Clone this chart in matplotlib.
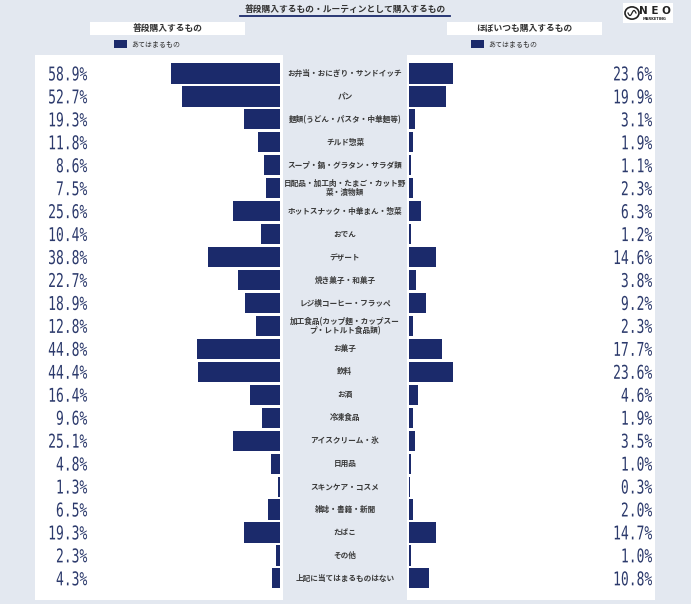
import numpy as np
import matplotlib.pyplot as plt
from matplotlib.patches import Rectangle, Circle, PathPatch
from matplotlib.textpath import TextPath
from matplotlib.font_manager import FontProperties
from matplotlib.transforms import blended_transform_factory, Affine2D, IdentityTransform

plt.switch_backend('agg')

# Data
categories = [
    'お弁当・おにぎり・サンドイッチ', 'パン', '麺類(うどん・パスタ・中華麺等)', 'チルド惣菜',
    'スープ・鍋・グラタン・サラダ類', '日配品・加工肉・たまご・カット野\n菜・漬物類',
    'ホットスナック・中華まん・惣菜', 'おでん', 'デザート', '焼き菓子・和菓子',
    'レジ横コーヒー・フラッペ', '加工食品(カップ麺・カップスー\nプ・レトルト食品類)',
    'お菓子', '飲料', 'お酒', '冷凍食品', 'アイスクリーム・氷', '日用品',
    'スキンケア・コスメ', '雑誌・書籍・新聞', 'たばこ', 'その他', '上記に当てはまるものはない',
]
usual = [58.9, 52.7, 19.3, 11.8, 8.6, 7.5, 25.6, 10.4, 38.8, 22.7, 18.9, 12.8,
         44.8, 44.4, 16.4, 9.6, 25.1, 4.8, 1.3, 6.5, 19.3, 2.3, 4.3]
always = [23.6, 19.9, 3.1, 1.9, 1.1, 2.3, 6.3, 1.2, 14.6, 3.8, 9.2, 2.3,
          17.7, 23.6, 4.6, 1.9, 3.5, 1.0, 0.3, 2.0, 14.7, 1.0, 10.8]

title = '普段購入するもの・ルーティンとして購入するもの'
left_title = '普段購入するもの'
right_title = 'ほぼいつも購入するもの'
legend_label = 'あてはまるもの'

BG = '#e3e8f0'
NAVY = '#1b2a6b'
TXT = '#2c3a6c'
JP = ['Noto Sans CJK JP', 'DejaVu Sans']

W, H = 691, 604
fig = plt.figure(figsize=(W / 100, H / 100), dpi=100)
fig.patch.set_facecolor(BG)


def px_rect(x0, y0, x1, y1):
    # pixel box (top-left origin) -> figure fraction rect
    return [x0 / W, 1 - y1 / H, (x1 - x0) / W, (y1 - y0) / H]


scale = 1.855   # pixels per percent
step = 22.95    # pixels per row
y_idx = np.arange(len(categories))
y_top = (55 - 73.5) / step
y_bot = (600 - 73.5) / step

axL = fig.add_axes(px_rect(35, 55, 283, 600))
axR = fig.add_axes(px_rect(407, 55, 655, 600))

axL.barh(y_idx, usual, height=0.88, color=NAVY)
axL.set_xlim((280 - 35) / scale, -3 / scale)
axR.barh(y_idx, always, height=0.88, color=NAVY)
axR.set_xlim(-2 / scale, (655 - 409) / scale)

for ax in (axL, axR):
    ax.set_ylim(y_bot, y_top)
    ax.set_facecolor('white')
    ax.set_xticks([])
    ax.set_yticks([])
    for s in ax.spines.values():
        s.set_visible(False)

# percentage labels: tall, condensed digits (stretched mono font)
mono = FontProperties(family='DejaVu Sans Mono')


def num_label(ax, xfrac, yval, s):
    tp = TextPath((0, 0), s, size=1, prop=mono)
    px, py = ax.get_yaxis_transform().transform((xfrac, yval))
    t = (Affine2D().translate(-tp.get_extents().x1, -0.365)
         .scale(13.0, 19.0).translate(px, py))
    fig.add_artist(PathPatch(tp, transform=t + IdentityTransform(),
                             facecolor=TXT, edgecolor='none'))


for i in y_idx:
    num_label(axL, 0.21, i, f'{usual[i]:.1f}%')
    num_label(axR, 0.988, i, f'{always[i]:.1f}%')

# category labels in the middle column
tr = blended_transform_factory(fig.transFigure, axL.transData)
for i, c in enumerate(categories):
    fig.text(345 / W, i, c, transform=tr, ha='center', va='center',
             fontsize=5.5, family=JP, fontweight='bold', color='#3a3a3a',
             linespacing=1.0)

# title and underline
fig.text(345 / W, 1 - 9 / H, title, ha='center', va='center', fontsize=6.3,
         family=JP, fontweight='bold', color='#333333')
fig.add_artist(plt.Line2D([240 / W, 450 / W], [1 - 15.5 / H, 1 - 15.5 / H],
                          color=NAVY, lw=1.3))

# panel headers and legends
for (x0, x1), txt, sq in [((90, 245), left_title, 114), ((447, 602), right_title, 471)]:
    fig.add_artist(Rectangle((x0 / W, 1 - 35 / H), (x1 - x0) / W, 13 / H,
                             transform=fig.transFigure, facecolor='white',
                             edgecolor='none'))
    fig.text((x0 + x1) / 2 / W, 1 - 28.5 / H, txt, ha='center', va='center',
             fontsize=6.3, family=JP, fontweight='bold', color='#333333')
    fig.add_artist(Rectangle((sq / W, 1 - 48 / H), 13 / W, 8 / H,
                             transform=fig.transFigure, facecolor=NAVY,
                             edgecolor='none'))
    fig.text((sq + 17) / W, 1 - 44 / H, legend_label, ha='left', va='center',
             fontsize=5, family=JP, color='#333333')

# logo
fig.add_artist(Rectangle((623 / W, 1 - 23 / H), 50 / W, 20 / H,
                         transform=fig.transFigure, facecolor='white',
                         edgecolor='none'))
fig.add_artist(Circle((632 / W, 1 - 13 / H), 7 / W, transform=fig.transFigure,
                      facecolor='white', edgecolor='#222222', lw=1.2))
wx = np.linspace(-4, 4, 30)
fig.add_artist(plt.Line2D((632 + wx) / W, 1 - (13 - 2.5 * np.sin(wx * np.pi / 4)) / H,
                          color='#222222', lw=0.9))
fig.text(655 / W, 1 - 11 / H, 'N E O', ha='center', va='center', fontsize=7.5,
         fontweight='bold', color='#222222')
fig.text(655 / W, 1 - 19 / H, 'MARKETING', ha='center', va='center', fontsize=2.5,
         fontweight='bold', color='#222222')

plt.savefig('out.png', dpi=100, facecolor=BG)
